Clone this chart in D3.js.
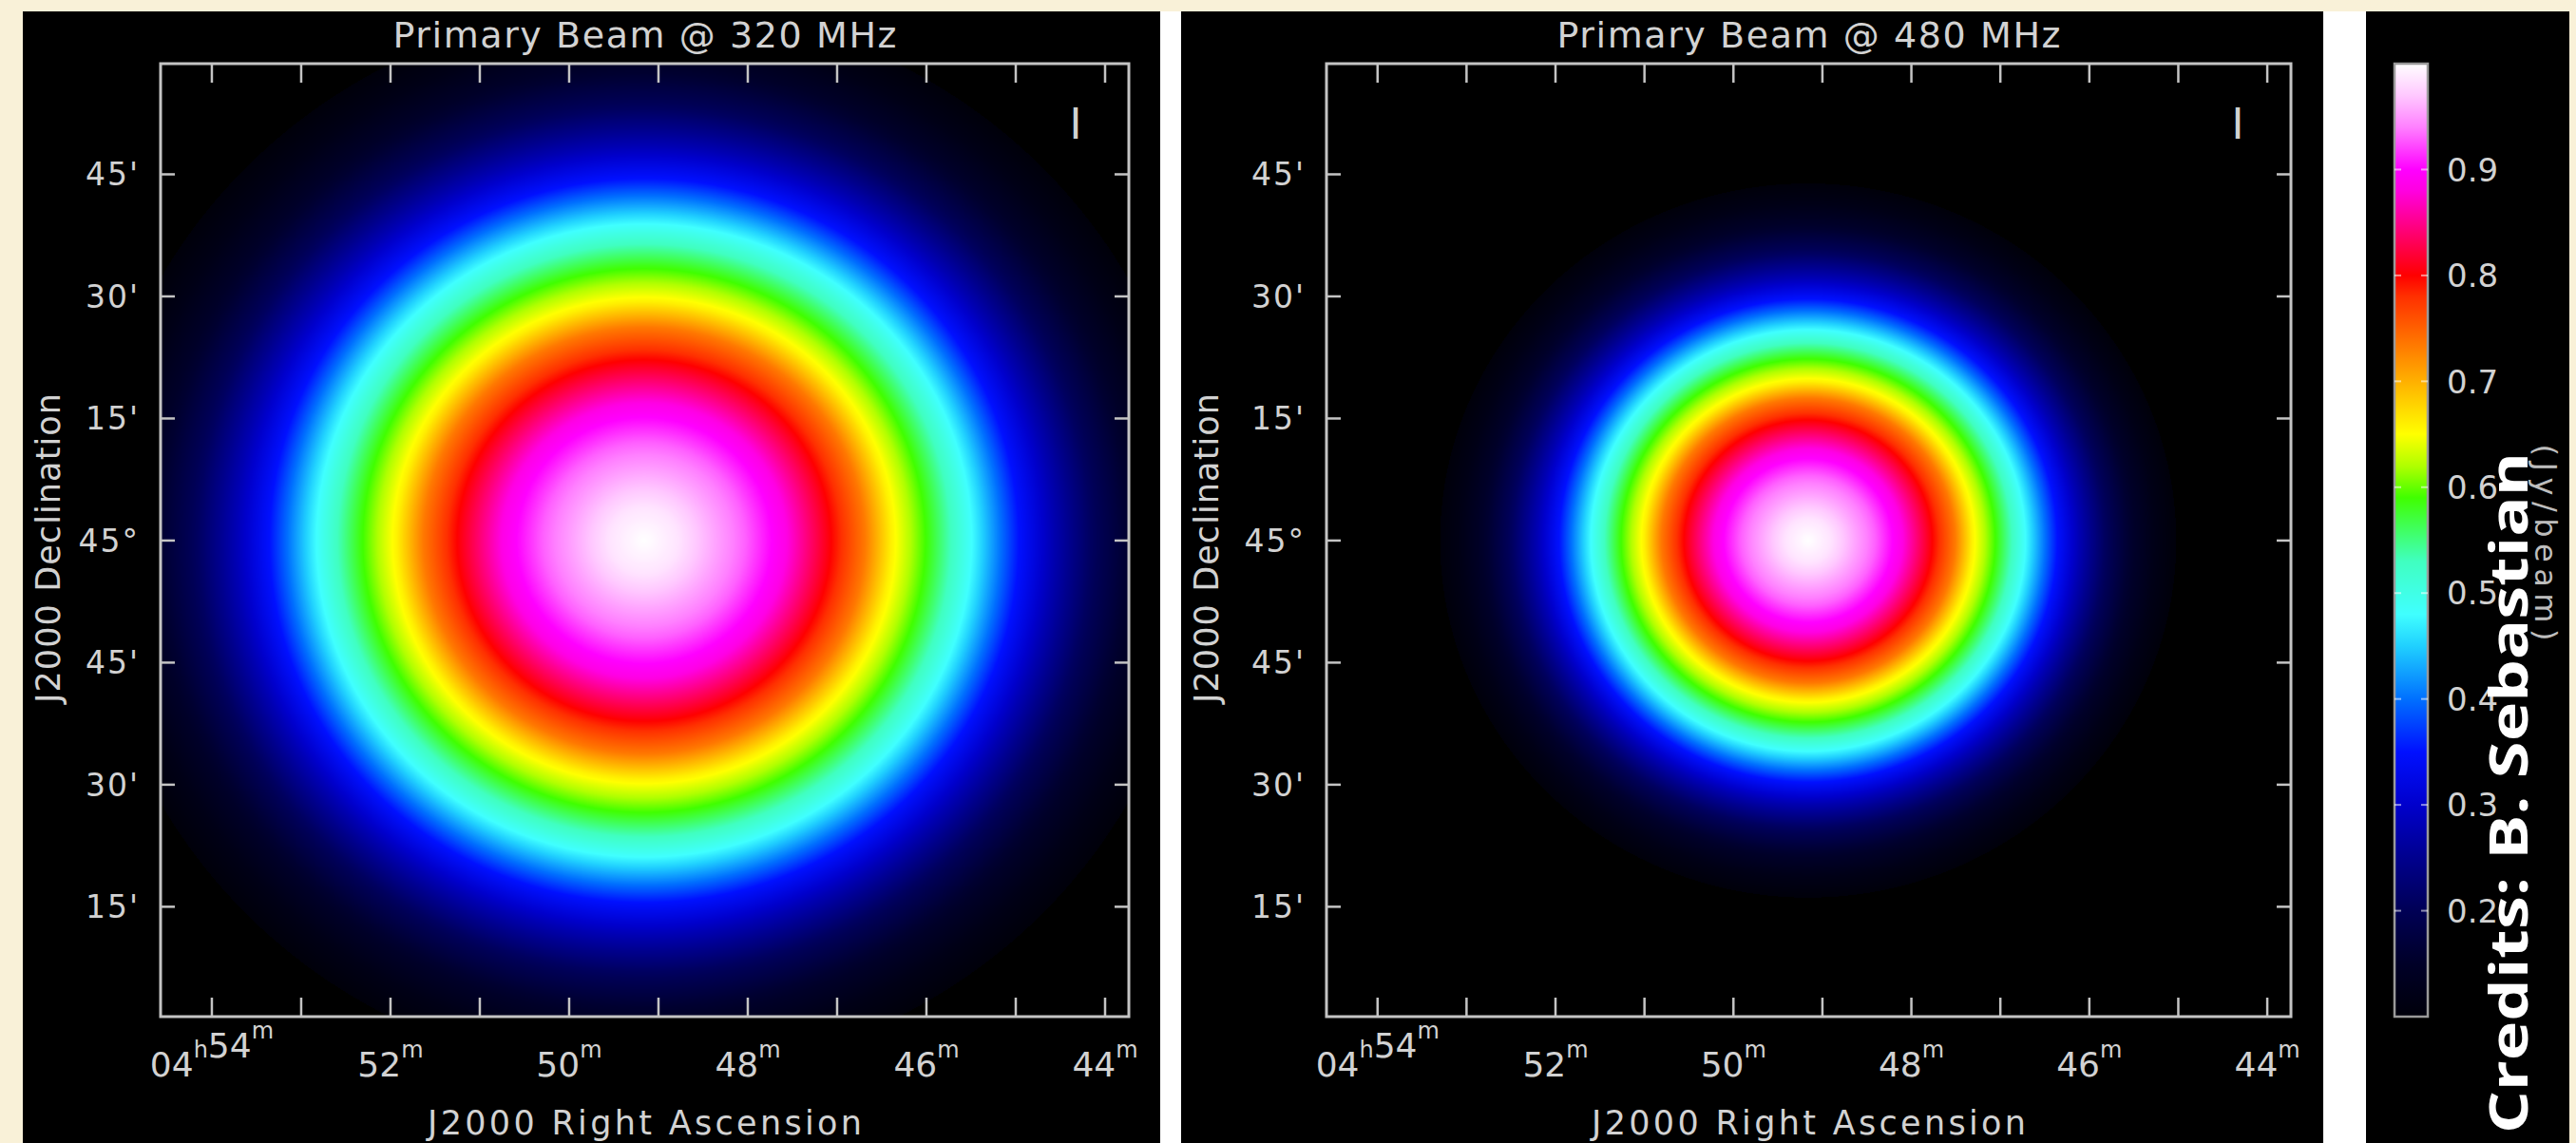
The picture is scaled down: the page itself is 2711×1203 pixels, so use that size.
<!DOCTYPE html>
<html>
<head>
<meta charset="utf-8">
<script src="https://cdn.jsdelivr.net/npm/d3@7"></script>
<style>
  html, body { margin: 0; padding: 0; background: #f9f1d8; }
  svg { display: block; }
</style>
</head>
<body>
<svg id="chart" width="2711" height="1203"></svg>
<script>
// ---------------- data ----------------
const panelTitles = ["Primary Beam @ 320 MHz", "Primary Beam @ 480 MHz"];

// Sky window of each map: RA in minutes past 04h, Dec in arcmin from +45°00'
const raExtent = [54.574, 43.734];
const decExtent = [-58.5, 58.6];
const decZeroDeg = 45;

const raMinorTicks = [54, 53, 52, 51, 50, 49, 48, 47, 46, 45, 44];
const raMajorTicks = [54, 52, 50, 48, 46, 44];
const raTickLabels = ["04h54m", "52m", "50m", "48m", "46m", "44m"];
const decTicks = [-45, -30, -15, 0, 15, 30, 45];
const decTickLabels = ["15'", "30'", "45'", "45°", "15'", "30'", "45'"];

// Pointing centre: 04h49m10s, +45°00'
const pointingRa = 49.16;
const pointingDec = 0;

// Radial beam profiles: offset from pointing (arcmin) and relative gain
const beamRadius320 = [0, 4.1, 12.0, 16.7, 22.2, 26.2, 29.3, 33.7, 38.9, 44.5, 48.5, 53.0, 57.3, 62.1, 67.7, 73.3, 81.2];
const beamGain320   = [1.0, 0.985, 0.93, 0.885, 0.80, 0.735, 0.66, 0.585, 0.48, 0.35, 0.28, 0.21, 0.16, 0.12, 0.09, 0.06, 0.04];
const beamRadius480 = [0, 2.7, 8.0, 11.1, 14.8, 17.5, 19.5, 22.5, 25.9, 29.7, 32.3, 35.3, 38.2, 41.4, 45.1, 48.9, 54.1];
const beamGain480   = [1.0, 0.985, 0.93, 0.885, 0.80, 0.735, 0.66, 0.585, 0.48, 0.35, 0.28, 0.21, 0.16, 0.12, 0.09, 0.06, 0.04];

// Colour table (gain -> colour)
const colorStops  = [0.10, 0.15, 0.20, 0.25, 0.30, 0.35, 0.40, 0.45, 0.48, 0.53, 0.57, 0.59, 0.62, 0.65, 0.69, 0.74, 0.78, 0.80, 0.84, 0.88, 0.90, 0.94, 0.97, 1.00];
const colorValues = ["#00000a", "#000028", "#000055", "#00008e", "#0000cc", "#0010ff", "#0070ff", "#20d0ff", "#40ffff", "#40ffc0", "#40ff40", "#40ff00", "#b0ff00", "#ffff00", "#ffc000", "#ff7000", "#ff3000", "#ff0000", "#ff0070", "#ff00e0", "#ff00ff", "#ff80ff", "#ffc8ff", "#ffffff"];

const colorbarExtent = [0.1, 1.0];
const colorbarTicks = [0.2, 0.3, 0.4, 0.5, 0.6, 0.7, 0.8, 0.9];
const colorbarUnit = "(Jy/beam)";
const creditText = "Credits: B. Sebastian";
const stokesLabel = "I";

// ---------------- layout ----------------
const W = 2711, H = 1203;
const panels = [
  { title: panelTitles[0], radius: beamRadius320, gain: beamGain320,
    black: [24, 12, 1221, H], frame: [169, 67, 1188, 1070], ylabelX: 50 },
  { title: panelTitles[1], radius: beamRadius480, gain: beamGain480,
    black: [1243, 12, 2445, H], frame: [1396, 67, 2411, 1070], ylabelX: 1269 }
];
const cbPanel = [2490, 12, 2704, H];
const cbBar = [2520, 67, 2555, 1070];

const LINE = "#c4c4c4";
const TEXT = "#d2d2d2";
const FONT = "'DejaVu Sans', 'Liberation Sans', sans-serif";

const svg = d3.select("#chart");

svg.append("rect").attr("width", W).attr("height", H).attr("fill", "#f9f1d8");
// white separator strip behind the panels
svg.append("rect").attr("x", 1219).attr("y", 12).attr("width", 1273).attr("height", H - 12)
  .attr("fill", "#ffffff");

const color = d3.scaleLinear().domain(colorStops).range(colorValues)
  .interpolate(d3.interpolateRgb).clamp(true);

// lookup table for the raster
const LUT_N = 2048;
const lut = new Uint8ClampedArray(LUT_N * 3);
for (let k = 0; k < LUT_N; k++) {
  const g = k / (LUT_N - 1);
  const c = g < colorStops[0] ? d3.rgb(0, 0, 0) : d3.rgb(color(g));
  lut[k * 3] = c.r; lut[k * 3 + 1] = c.g; lut[k * 3 + 2] = c.b;
}

function drawPanel(p) {
  const [bx0, by0, bx1, by1] = p.black;
  const [fx0, fy0, fx1, fy1] = p.frame;
  const g = svg.append("g");

  g.append("rect").attr("x", bx0).attr("y", by0).attr("width", bx1 - bx0).attr("height", by1 - by0)
    .attr("fill", "#000");

  const x = d3.scaleLinear().domain(raExtent).range([fx0, fx1]);
  const y = d3.scaleLinear().domain(decExtent).range([fy1, fy0]);
  const gainAt = d3.scaleLinear().domain(p.radius).range(p.gain).clamp(true);

  // beam raster
  const w = fx1 - fx0, h = fy1 - fy0;
  const canvas = document.createElement("canvas");
  canvas.width = w; canvas.height = h;
  const ctx = canvas.getContext("2d");
  const img = ctx.createImageData(w, h);
  const cosDec = Math.cos(decZeroDeg * Math.PI / 180);
  const dxs = new Float64Array(w);
  for (let i = 0; i < w; i++) dxs[i] = (x.invert(fx0 + i + 0.5) - pointingRa) * 15 * cosDec;
  for (let j = 0; j < h; j++) {
    const dy = y.invert(fy0 + j + 0.5) - pointingDec;
    for (let i = 0; i < w; i++) {
      const r = Math.sqrt(dxs[i] * dxs[i] + dy * dy);
      const k = Math.round(gainAt(r) * (LUT_N - 1));
      const o = (j * w + i) * 4;
      img.data[o] = lut[k * 3]; img.data[o + 1] = lut[k * 3 + 1]; img.data[o + 2] = lut[k * 3 + 2];
      img.data[o + 3] = 255;
    }
  }
  ctx.putImageData(img, 0, 0);
  g.append("image").attr("x", fx0).attr("y", fy0).attr("width", w).attr("height", h)
    .attr("preserveAspectRatio", "none").attr("href", canvas.toDataURL());

  // frame
  g.append("rect").attr("x", fx0).attr("y", fy0).attr("width", w).attr("height", h)
    .attr("fill", "none").attr("stroke", LINE).attr("stroke-width", 3);

  // RA ticks, bottom and top
  const ticks = g.append("g").attr("stroke", LINE).attr("stroke-width", 2.5);
  raMinorTicks.forEach(t => {
    ticks.append("line").attr("x1", x(t)).attr("x2", x(t)).attr("y1", fy1).attr("y2", fy1 - 20);
    ticks.append("line").attr("x1", x(t)).attr("x2", x(t)).attr("y1", fy0).attr("y2", fy0 + 20);
  });
  // Dec ticks, left and right
  decTicks.forEach(t => {
    ticks.append("line").attr("x1", fx0).attr("x2", fx0 + 15).attr("y1", y(t)).attr("y2", y(t));
    ticks.append("line").attr("x1", fx1).attr("x2", fx1 - 15).attr("y1", y(t)).attr("y2", y(t));
  });

  // RA tick labels with superscript h / m
  raMajorTicks.forEach((t, i) => {
    const txt = g.append("text").attr("x", x(t)).attr("y", 1133)
      .attr("text-anchor", "middle").attr("fill", TEXT)
      .style("font-family", FONT).style("font-size", "36px");
    const parts = raTickLabels[i].match(/\d+[hm]/g);
    parts.forEach(part => {
      txt.append("tspan").text(part.slice(0, -1));
      txt.append("tspan").attr("dy", -20).style("font-size", "24px").text(part.slice(-1));
      txt.append("tspan").attr("dy", 20).style("font-size", "24px").text("");
    });
  });

  // Dec tick labels
  decTicks.forEach((t, i) => {
    g.append("text").attr("x", fx0 - 22).attr("y", y(t)).attr("dy", "0.36em")
      .attr("text-anchor", "end").attr("fill", TEXT)
      .style("font-family", FONT).style("font-size", "33px").style("letter-spacing", "2px")
      .text(decTickLabels[i]);
  });

  // title
  g.append("text").attr("x", (fx0 + fx1) / 2).attr("y", 50).attr("text-anchor", "middle")
    .attr("fill", TEXT).style("font-family", FONT).style("font-size", "38px")
    .attr("textLength", 530).attr("lengthAdjust", "spacing").text(p.title);

  // axis titles
  g.append("text").attr("x", (fx0 + fx1) / 2).attr("y", 1194).attr("text-anchor", "middle")
    .attr("fill", TEXT).style("font-family", FONT).style("font-size", "35px")
    .attr("textLength", 457).attr("lengthAdjust", "spacing").text("J2000 Right Ascension");
  g.append("text").attr("transform", `translate(${p.ylabelX},577) rotate(-90)`)
    .attr("dy", "0.36em").attr("text-anchor", "middle")
    .attr("fill", TEXT).style("font-family", FONT).style("font-size", "35px")
    .attr("textLength", 326).attr("lengthAdjust", "spacing").text("J2000 Declination");

  // Stokes parameter label
  g.append("text").attr("x", fx1 - 56).attr("y", 146).attr("text-anchor", "middle")
    .attr("fill", TEXT).style("font-family", FONT).style("font-size", "44px").text(stokesLabel);
}

panels.forEach(drawPanel);

// ---------------- colour bar ----------------
const cb = svg.append("g");
cb.append("rect").attr("x", cbPanel[0]).attr("y", cbPanel[1])
  .attr("width", cbPanel[2] - cbPanel[0]).attr("height", cbPanel[3] - cbPanel[1]).attr("fill", "#000");

const cbScale = d3.scaleLinear().domain(colorbarExtent).range([cbBar[3], cbBar[1]]);
const grad = svg.append("defs").append("linearGradient").attr("id", "cbgrad")
  .attr("x1", 0).attr("y1", 1).attr("x2", 0).attr("y2", 0);
colorStops.forEach((s, i) => {
  grad.append("stop")
    .attr("offset", (s - colorbarExtent[0]) / (colorbarExtent[1] - colorbarExtent[0]))
    .attr("stop-color", colorValues[i]);
});
cb.append("rect").attr("x", cbBar[0]).attr("y", cbBar[1])
  .attr("width", cbBar[2] - cbBar[0]).attr("height", cbBar[3] - cbBar[1])
  .attr("fill", "url(#cbgrad)").attr("stroke", "#9a9a9a").attr("stroke-width", 2.5);

colorbarTicks.forEach(t => {
  cb.append("line").attr("x1", cbBar[0]).attr("x2", cbBar[0] + 7)
    .attr("y1", cbScale(t)).attr("y2", cbScale(t)).attr("stroke", "rgba(255,255,255,0.55)").attr("stroke-width", 2);
  cb.append("line").attr("x1", cbBar[2]).attr("x2", cbBar[2] - 7)
    .attr("y1", cbScale(t)).attr("y2", cbScale(t)).attr("stroke", "rgba(255,255,255,0.55)").attr("stroke-width", 2);
  cb.append("text").attr("x", 2575).attr("y", cbScale(t)).attr("dy", "0.36em")
    .attr("fill", TEXT).style("font-family", FONT).style("font-size", "34px")
    .text(d3.format(".1f")(t));
});

cb.append("text").attr("transform", "translate(2668,571) rotate(90)")
  .attr("text-anchor", "middle").attr("fill", "#bdbdbd")
  .style("font-family", FONT).style("font-size", "32px")
  .attr("textLength", 207).attr("lengthAdjust", "spacing").text(colorbarUnit);

// credit line
svg.append("text").attr("transform", "translate(2660,1193) rotate(-90)")
  .attr("text-anchor", "start").attr("fill", "#ffffff")
  .style("font-family", "'Open Sans', 'Noto Sans', sans-serif").style("font-weight", 700)
  .style("font-size", "56px")
  .attr("textLength", 717).attr("lengthAdjust", "spacingAndGlyphs").text(creditText);
</script>
</body>
</html>
